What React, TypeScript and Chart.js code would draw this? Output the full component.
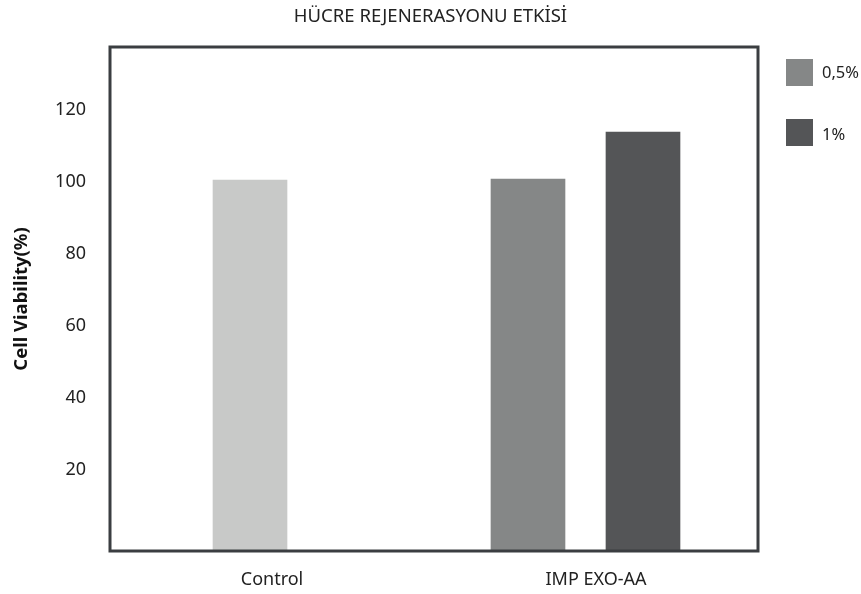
import React, { useEffect, useRef } from "react";
import { Chart, registerables } from "chart.js";

Chart.register(...registerables);

const TITLE = "HÜCRE REJENERASYONU ETKİSİ";
const Y_TITLE = "Cell Viability(%)";
const CATEGORIES = ["Control", "IMP EXO-AA"];
const CONTROL_VALUES = [100.5, null];
const HALF_PCT_VALUES = [null, 100.8];
const ONE_PCT_VALUES = [null, 113.9];
const SERIES_LABELS = ["Control", "0,5%", "1%"];
const Y_TICKS = [20, 40, 60, 80, 100, 120];
const Y_MIN = -2.5;
const Y_MAX = 137.5;

const COLORS = ["#c8c9c8", "#858787", "#545557"];
const IN_LEGEND = [false, true, true];
const FONT = "'Noto Sans', sans-serif";
const TEXT = "#222222";

const toPoints = (vals: (number | null)[]) =>
  vals.map((v, i) => ({ x: i, y: v }));

const framePlugin = {
  id: "frame",
  afterDatasetsDraw(chart: any) {
    const { ctx, chartArea: a } = chart;
    ctx.save();
    ctx.strokeStyle = "#3b3e41";
    ctx.lineWidth = 3;
    ctx.strokeRect(a.left, a.top, a.right - a.left, a.bottom - a.top);
    ctx.restore();
  },
};

const legendPlugin = {
  id: "sideLegend",
  afterDraw(chart: any) {
    const { ctx, chartArea: a } = chart;
    ctx.save();
    let row = 0;
    chart.data.datasets.forEach((ds: any, i: number) => {
      if (!IN_LEGEND[i]) return;
      const x = a.right + 28;
      const y = a.top + 12 + row * 60;
      ctx.fillStyle = ds.backgroundColor;
      ctx.fillRect(x, y, 27, 27);
      ctx.fillStyle = TEXT;
      ctx.font = `16.5px ${FONT}`;
      ctx.textBaseline = "middle";
      ctx.textAlign = "left";
      ctx.fillText(ds.label, x + 36, y + 14 + row * 2);
      row++;
    });
    ctx.restore();
  },
};

export default function App() {
  const ref = useRef<HTMLCanvasElement>(null);

  useEffect(() => {
    document.body.style.margin = "0";
    const canvas = ref.current;
    if (!canvas) return;
    const seriesValues = [CONTROL_VALUES, HALF_PCT_VALUES, ONE_PCT_VALUES];
    const chart = new Chart(canvas, {
      type: "bar",
      data: {
        labels: CATEGORIES,
        datasets: seriesValues.map((vals, i) => ({
          label: SERIES_LABELS[i],
          data: toPoints(vals) as any,
          backgroundColor: COLORS[i],
          borderWidth: 0,
          xAxisID: "xb",
          yAxisID: "y",
          base: Y_MIN,
        })),
      },
      options: {
        animation: false,
        responsive: false,
        skipNull: true,
        barThickness: 115,
        maxBarThickness: 74,
        layout: { padding: 0 },
        plugins: {
          legend: { display: false },
          tooltip: { enabled: false },
          title: {
            display: true,
            text: TITLE,
            color: TEXT,
            font: { family: FONT, size: 18.5, weight: "normal" },
            padding: { top: 6, bottom: 18.8 },
          },
        },
        scales: {
          x: {
            type: "category",
            labels: CATEGORIES,
            position: "bottom",
            offset: true,
            grid: { display: false, drawTicks: false },
            border: { display: false },
            ticks: {
              color: TEXT,
              font: { family: FONT, size: 18 },
              padding: 18,
              maxRotation: 0,
            },
            afterFit: (s: any) => {
              s.height = 43;
            },
          },
          xb: {
            type: "linear",
            display: false,
            offset: false,
            min: -0.4173,
            max: 1.5142,
          },
          y: {
            type: "linear",
            position: "left",
            min: Y_MIN,
            max: Y_MAX,
            grid: { display: false, drawTicks: false },
            border: { display: false },
            afterBuildTicks: (s: any) => {
              s.ticks = Y_TICKS.map((v) => ({ value: v }));
            },
            ticks: {
              color: TEXT,
              font: { family: FONT, size: 18 },
              padding: 24,
            },
            title: {
              display: true,
              text: Y_TITLE,
              color: "#111111",
              font: { family: FONT, size: 18.5, weight: "bold" },
              padding: { top: 11, bottom: 0 },
            },
            afterFit: (s: any) => {
              s.width = 110;
            },
          },
          yr: {
            type: "linear",
            position: "right",
            grid: { display: false, drawTicks: false },
            border: { display: false },
            ticks: { display: false },
            afterFit: (s: any) => {
              s.width = 103;
            },
          },
        },
      } as any,
      plugins: [framePlugin, legendPlugin],
    });
    return () => chart.destroy();
  }, []);

  return (
    <div style={{ width: 861, height: 594 }}>
      <canvas ref={ref} width={861} height={594} />
    </div>
  );
}
